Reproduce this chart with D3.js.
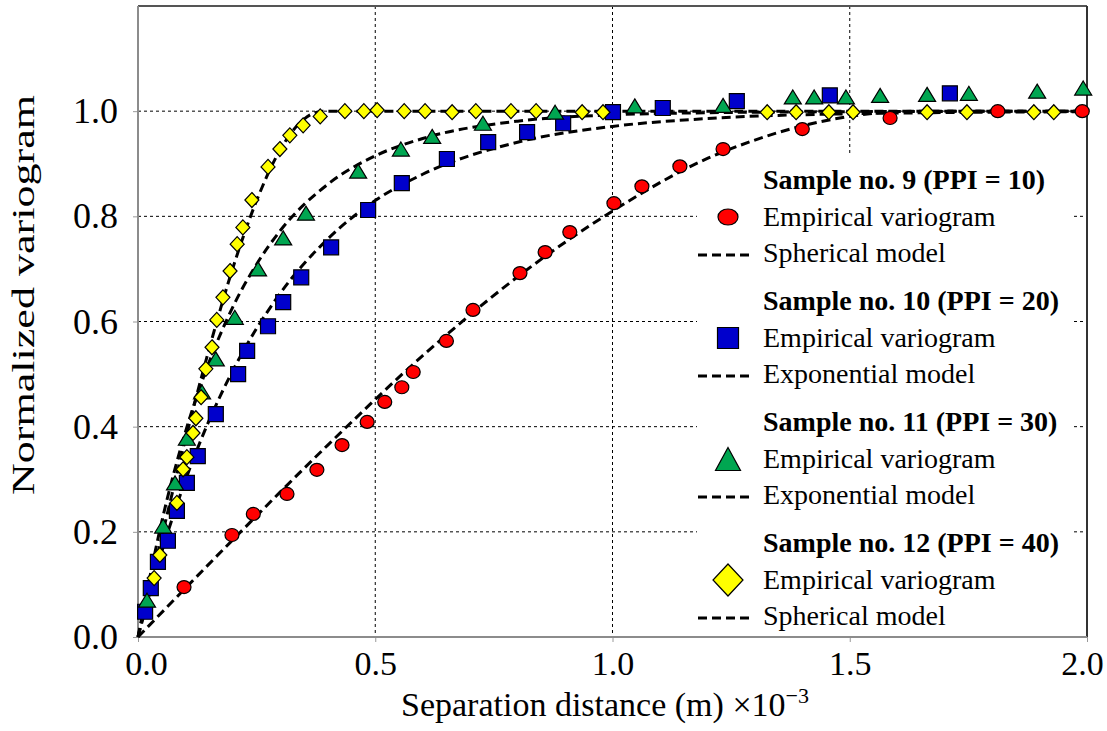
<!DOCTYPE html>
<html>
<head>
<meta charset="utf-8">
<script src="https://cdn.jsdelivr.net/npm/d3@7"></script>
<style>
  body { margin: 0; background: #fff; }
  text { font-family: "Liberation Serif", "Times New Roman", serif; }
</style>
</head>
<body>
<div id="container"></div>
<script>
/* DATA */
// sample no. 9 - red circles, spherical model
const s9Points = [
  [0.097, 0.095], [0.198, 0.194], [0.243, 0.234], [0.314, 0.272], [0.377, 0.318],
  [0.430, 0.365], [0.483, 0.409], [0.520, 0.447], [0.556, 0.475], [0.580, 0.504],
  [0.650, 0.563], [0.706, 0.622], [0.805, 0.692], [0.858, 0.732], [0.910, 0.770],
  [1.003, 0.825], [1.062, 0.857], [1.142, 0.895], [1.233, 0.928], [1.400, 0.966],
  [1.585, 0.987], [1.812, 1.000], [1.990, 1.000]
];
const s9Model = [
  [0, 0], [0.2, 0.185], [0.4, 0.365], [0.6, 0.535], [0.8, 0.685], [1.0, 0.81],
  [1.2, 0.91], [1.3, 0.945], [1.4, 0.972], [1.5, 0.99], [1.6, 0.999], [1.65, 1.0], [2.0, 1.0]
];

// sample no. 10 - blue squares, exponential model
const s10Points = [
  [0.015, 0.048], [0.027, 0.093], [0.042, 0.143], [0.063, 0.183], [0.082, 0.240],
  [0.103, 0.293], [0.126, 0.344], [0.164, 0.424], [0.211, 0.500], [0.230, 0.544],
  [0.274, 0.591], [0.306, 0.637], [0.344, 0.684], [0.407, 0.741], [0.485, 0.812],
  [0.556, 0.863], [0.651, 0.909], [0.738, 0.941], [0.820, 0.960], [0.896, 0.977],
  [1.001, 0.998], [1.106, 1.006], [1.262, 1.019], [1.458, 1.030], [1.711, 1.034]
];
const s10Model = [
  [0, 0], [0.05, 0.162], [0.1, 0.298], [0.15, 0.412], [0.2, 0.507], [0.3, 0.654],
  [0.4, 0.757], [0.5, 0.83], [0.6, 0.88], [0.8, 0.941], [1.0, 0.971], [1.2, 0.986],
  [1.5, 0.995], [2.0, 0.999]
];

// sample no. 11 - green triangles, exponential model
const s11Points = [
  [0.019, 0.070], [0.053, 0.211], [0.078, 0.293], [0.103, 0.378], [0.135, 0.466],
  [0.164, 0.529], [0.204, 0.608], [0.253, 0.700], [0.306, 0.759], [0.354, 0.806],
  [0.464, 0.886], [0.554, 0.928], [0.620, 0.952], [0.727, 0.977], [0.879, 0.998],
  [1.047, 1.010], [1.233, 1.011], [1.380, 1.027], [1.425, 1.027], [1.492, 1.027],
  [1.564, 1.030], [1.663, 1.032], [1.751, 1.034], [1.895, 1.038], [1.992, 1.044]
];
const s11Model = [
  [0, 0], [0.05, 0.219], [0.1, 0.39], [0.15, 0.523], [0.2, 0.628], [0.25, 0.709],
  [0.3, 0.773], [0.4, 0.861], [0.5, 0.915], [0.6, 0.948], [0.8, 0.981], [1.0, 0.993],
  [1.2, 0.997], [1.5, 0.999], [2.0, 1.0]
];

// sample no. 12 - yellow diamonds, spherical model
const s12Points = [
  [0.034, 0.112], [0.046, 0.156], [0.082, 0.255], [0.095, 0.319], [0.103, 0.342],
  [0.116, 0.388], [0.122, 0.416], [0.133, 0.456], [0.143, 0.510], [0.156, 0.551],
  [0.166, 0.603], [0.179, 0.646], [0.194, 0.696], [0.209, 0.747], [0.221, 0.779],
  [0.240, 0.831], [0.274, 0.894], [0.299, 0.928], [0.320, 0.954], [0.348, 0.973],
  [0.384, 0.990], [0.436, 1.000], [0.476, 1.000], [0.504, 1.002], [0.561, 1.000],
  [0.605, 1.000], [0.662, 0.998], [0.712, 1.000], [0.786, 1.000], [0.839, 1.000],
  [0.936, 0.998], [0.980, 0.998], [1.326, 0.998], [1.387, 0.998], [1.456, 0.998],
  [1.507, 0.998], [1.663, 0.998], [1.747, 0.998], [1.888, 0.998], [1.930, 0.998]
];
const s12Model = [
  [0, 0], [0.05, 0.19], [0.1, 0.376], [0.15, 0.548], [0.2, 0.702], [0.25, 0.83],
  [0.3, 0.927], [0.35, 0.985], [0.39, 1.0], [2.0, 1.0]
];

const xTicks = [0, 0.5, 1.0, 1.5, 2.0];
const yTicks = [0, 0.2, 0.4, 0.6, 0.8, 1.0];
const legendTitles = ["Sample no. 9 (PPI = 10)", "Sample no. 10 (PPI = 20)",
                      "Sample no. 11 (PPI = 30)", "Sample no. 12 (PPI = 40)"];
const modelNames = ["Spherical model", "Exponential model", "Exponential model", "Spherical model"];

/* CONSTANTS */
const width = 1107, height = 731;
const plot = { left: 138, right: 1087, top: 6, bottom: 637 };

const series = [
  { points: s9Points, model: s9Model, shape: "circle", fill: "#ff0000" },
  { points: s10Points, model: s10Model, shape: "square", fill: "#0000cc" },
  { points: s11Points, model: s11Model, shape: "triangle", fill: "#00a651" },
  { points: s12Points, model: s12Model, shape: "diamond", fill: "#ffff00" }
];
// marker sizes [w, h] in plot and in legend
const markerSize = {
  circle: [[14, 13], [20, 16]],
  square: [[15, 15], [21, 21]],
  triangle: [[17, 14], [25, 23]],
  diamond: [[14, 15], [30, 32]]
};

function shapePath(shape, w, h) {
  if (shape === "circle")
    return `M${-w / 2},0a${w / 2},${h / 2} 0 1,0 ${w},0a${w / 2},${h / 2} 0 1,0 ${-w},0Z`;
  if (shape === "square")
    return `M${-w / 2},${-h / 2}h${w}v${h}h${-w}Z`;
  if (shape === "triangle")
    return `M0,${-h / 2}L${w / 2},${h / 2}L${-w / 2},${h / 2}Z`;
  return `M0,${-h / 2}L${w / 2},0L0,${h / 2}L${-w / 2},0Z`;
}

/* SVG */
const svg = d3.select("#container")
  .append("svg")
  .attr("width", width)
  .attr("height", height);

/* SCALES */
const x = d3.scaleLinear().domain([0, 2]).range([plot.left, plot.right]);
const y = d3.scaleLinear().domain([0, 1.2]).range([plot.bottom, plot.top]);

/* GRID */
svg.selectAll("line.vgrid")
  .data(xTicks.slice(1, -1))
  .join("line")
  .attr("class", "vgrid")
  .attr("x1", d => x(d)).attr("x2", d => x(d))
  .attr("y1", plot.top).attr("y2", plot.bottom)
  .attr("stroke", "#000").attr("stroke-width", 1).attr("stroke-dasharray", "3,3");

svg.selectAll("line.hgrid")
  .data(yTicks.slice(1))
  .join("line")
  .attr("class", "hgrid")
  .attr("x1", plot.left).attr("x2", plot.right)
  .attr("y1", d => y(d)).attr("y2", d => y(d))
  .attr("stroke", "#000").attr("stroke-width", 1).attr("stroke-dasharray", "3,3");

// legend background hides the grid behind it
svg.append("rect")
  .attr("x", 697).attr("y", 155)
  .attr("width", 376).attr("height", 479)
  .attr("fill", "#fff");

/* AXES */
const xAxis = svg.append("g")
  .attr("transform", `translate(0,${plot.bottom})`)
  .call(d3.axisBottom(x).tickValues(xTicks).tickFormat(d3.format(".1f")).tickSize(5).tickPadding(9));
const yAxis = svg.append("g")
  .attr("transform", `translate(${plot.left},0)`)
  .call(d3.axisLeft(y).tickValues(yTicks).tickFormat(d3.format(".1f")).tickSize(5).tickPadding(15));

[xAxis, yAxis].forEach(g => {
  g.select(".domain").remove();
  g.selectAll(".tick line").attr("stroke", "#999");
  g.selectAll(".tick text")
    .attr("fill", "#000")
    .style("font-family", "'Liberation Serif', serif");
});
yAxis.selectAll(".tick text").style("font-size", "36px");
// end labels sit a little inward, as in the original
xAxis.selectAll(".tick text")
  .style("font-size", "34px")
  .attr("dx", d => d === 0 ? 8 : d === 2 ? -5 : 0);

// frame
svg.append("line").attr("x1", plot.left).attr("x2", plot.right)
  .attr("y1", plot.top).attr("y2", plot.top).attr("stroke", "#555").attr("stroke-width", 2);
svg.append("line").attr("x1", plot.right).attr("x2", plot.right)
  .attr("y1", plot.top).attr("y2", plot.bottom).attr("stroke", "#333").attr("stroke-width", 2);
svg.append("line").attr("x1", plot.left).attr("x2", plot.left)
  .attr("y1", plot.top).attr("y2", plot.bottom + 1).attr("stroke", "#8c8c8c").attr("stroke-width", 2);
svg.append("line").attr("x1", plot.left).attr("x2", plot.right)
  .attr("y1", plot.bottom).attr("y2", plot.bottom).attr("stroke", "#8c8c8c").attr("stroke-width", 2);

/* MODEL LINES */
const lineGen = d3.line()
  .x(d => x(d[0]))
  .y(d => y(d[1]))
  .curve(d3.curveMonotoneX);

svg.selectAll("path.model")
  .data(series)
  .join("path")
  .attr("class", "model")
  .attr("d", d => lineGen(d.model))
  .attr("fill", "none")
  .attr("stroke", "#000")
  .attr("stroke-width", 3)
  .attr("stroke-dasharray", "9,5");

/* MARKERS */
series.forEach((s, i) => {
  const [w, h] = markerSize[s.shape][0];
  svg.selectAll(`path.pt${i}`)
    .data(s.points)
    .join("path")
    .attr("class", `pt${i}`)
    .attr("d", shapePath(s.shape, w, h))
    .attr("transform", d => `translate(${x(d[0])},${y(d[1])})`)
    .attr("fill", s.fill)
    .attr("stroke", "#000")
    .attr("stroke-width", 1.2);
});

/* LEGEND */
const legend = svg.selectAll("g.legend")
  .data(series)
  .join("g")
  .attr("class", "legend")
  .attr("transform", (d, i) => `translate(0,${189 + i * 121})`);

legend.append("text")
  .attr("x", 763).attr("y", 0)
  .attr("font-size", 28).attr("font-weight", "bold")
  .text((d, i) => legendTitles[i]);

legend.append("path")
  .attr("d", d => shapePath(d.shape, markerSize[d.shape][1][0], markerSize[d.shape][1][1]))
  .attr("transform", "translate(728,28)")
  .attr("fill", d => d.fill)
  .attr("stroke", "#000")
  .attr("stroke-width", 1.2);

legend.append("text")
  .attr("x", 763).attr("y", 37)
  .attr("font-size", 28)
  .text("Empirical variogram");

legend.append("line")
  .attr("x1", 698).attr("x2", 752)
  .attr("y1", 66).attr("y2", 66)
  .attr("stroke", "#000").attr("stroke-width", 3)
  .attr("stroke-dasharray", "9,5");

legend.append("text")
  .attr("x", 763).attr("y", 73)
  .attr("font-size", 28)
  .text((d, i) => modelNames[i]);

/* AXIS TITLES */
svg.append("text")
  .attr("transform", "translate(34,295) rotate(-90)")
  .attr("text-anchor", "middle")
  .attr("font-size", 32)
  .attr("textLength", 400)
  .attr("lengthAdjust", "spacingAndGlyphs")
  .text("Normalized variogram");

const xTitle = svg.append("text")
  .attr("x", 605).attr("y", 716)
  .attr("text-anchor", "middle")
  .attr("font-size", 34);
xTitle.append("tspan").text("Separation distance (m) \u00d710");
xTitle.append("tspan").attr("dy", -13).attr("font-size", 22).text("\u22123");
</script>
</body>
</html>
